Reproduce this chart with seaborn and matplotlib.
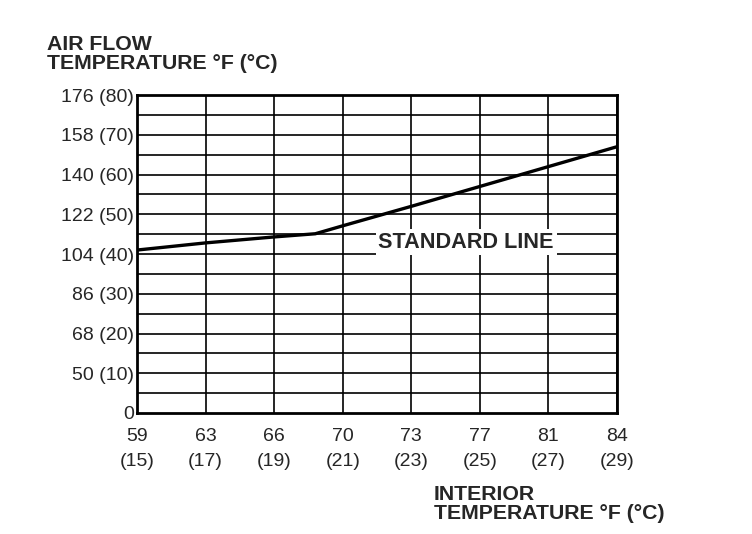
import matplotlib
matplotlib.use("Agg")
import matplotlib.pyplot as plt
import seaborn as sns
import pandas as pd

# data (in deg C)
interior_c = [15, 17, 19, 20.2, 21, 23, 25, 27, 29]
airflow_c = [41.0, 42.8, 44.3, 45.1, 47.1, 52.0, 57.0, 62.0, 67.0]

x_ticks_c = [15, 17, 19, 21, 23, 25, 27, 29]
x_ticks_f = ["59", "63", "66", "70", "73", "77", "81", "84"]
y_ticks_c = [0, 10, 20, 30, 40, 50, 60, 70, 80]
y_ticks_f = ["0", "50", "68", "86", "104", "122", "140", "158", "176"]

df = pd.DataFrame({"interior": interior_c, "airflow": airflow_c})

sns.set_style("white")
plt.rcParams["font.family"] = ["Liberation Sans", "DejaVu Sans"]

fig = plt.figure(figsize=(7.52, 5.34), dpi=100)
ax = fig.add_axes([0.1822, 0.2266, 0.6383, 0.5954])

# grid
for c in x_ticks_c:
    ax.axvline(c, color="black", lw=1.2, zorder=1)
for c in range(5, 80, 5):
    ax.axhline(c, color="black", lw=1.2, zorder=1)

sns.lineplot(data=df, x="interior", y="airflow", color="black", lw=2.4, ax=ax, zorder=3)

ax.set_xlim(15, 29)
ax.set_ylim(0, 80)
ax.set_xticks(x_ticks_c)
ax.set_xticklabels([f"{f}\n({c})" for f, c in zip(x_ticks_f, x_ticks_c)],
                   fontsize=14, linespacing=1.6)
ax.set_yticks(y_ticks_c)
ax.set_yticklabels(["0"] + [f"{f} ({c})" for f, c in zip(y_ticks_f[1:], y_ticks_c[1:])],
                   fontsize=14)
ax.tick_params(axis="x", length=0, pad=11)
ax.tick_params(axis="y", length=0, pad=2)
ax.set_xlabel("")
ax.set_ylabel("")
for s in ax.spines.values():
    s.set_color("black")
    s.set_linewidth(2)

ax.text(24.6, 43.0, "STANDARD LINE", fontsize=15.6, fontweight="bold",
        ha="center", va="center", zorder=4,
        bbox=dict(facecolor="white", edgecolor="none", pad=2))

fig.text(47 / 752, 1 - 35 / 534, "AIR FLOW\nTEMPERATURE °F (°C)", fontsize=15.3,
         fontweight="bold", ha="left", va="top", linespacing=0.98)
fig.text(434 / 752, 1 - 485 / 534, "INTERIOR\nTEMPERATURE °F (°C)", fontsize=15.3,
         fontweight="bold", ha="left", va="top", linespacing=1.02)

fig.savefig("out.png", dpi=100)
